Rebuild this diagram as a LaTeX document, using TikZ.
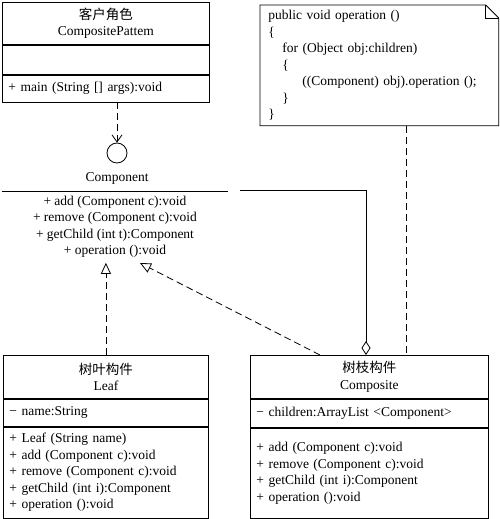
\documentclass[tikz,border=0pt]{standalone}
\usepackage{fontspec}
\setmainfont{Liberation Serif}
\newfontfamily\cjk{Noto Sans CJK SC}
\usetikzlibrary{arrows.meta}

\begin{document}
\begin{tikzpicture}[x=1pt,y=-1pt,line width=0.8pt,
    font=\fontsize{13.5}{16.5}\selectfont,
    usesarrow/.style={dash pattern=on 7pt off 4pt,-{Straight Barb[length=7pt,width=10pt]}},
    implarrow/.style={dash pattern=on 7pt off 4pt,-{Triangle[open,length=11pt,width=10pt]}},
    aggline/.style={{Diamond[open,length=14pt,width=9pt]}-},
    noteline/.style={dash pattern=on 7pt off 4pt}]
            \useasboundingbox (0,0) rectangle (500,519);

            % client
            \begin{scope}[every node/.style={draw,anchor=north west,inner xsep=6pt,inner ysep=0pt}]
                \node[align=center,text width=195pt,minimum height=42pt] (1) at (2,2) {{\cjk 客户角色}\\CompositePattem};
                \node[text width=195pt,minimum height=29pt] (2) at (1.south west) {};
                \node[align=left,text width=195pt,minimum height=27pt] (3) at (2.south west) {+ main (String [] args):void};
            \end{scope}

            % component
            \node[circle,draw,minimum size=20pt,inner sep=0pt] (6) at (117,153) {};
            \node (7) at (117,178) {Component};
            \node[anchor=north,align=center,minimum width=226pt,minimum height=71pt] (8) at (115,191)
                {+ add (Component c):void\\+ remove (Component c):void\\+ getChild (int t):Component\\+ operation ():void};
            \draw (8.north west) -- (8.north east);

            % note
            \node[align=left,anchor=north west,text width=222pt,minimum height=120pt,inner xsep=8pt] (9) at (260,5)
                {public void operation ()\\\{\\\hspace*{14pt}for (Object obj:children)\\\hspace*{14pt}\{\\\hspace*{34pt}((Component) obj).operation ();\\\hspace*{14pt}\}\\\}};
            \draw (9.north west) -- ([xshift=-13pt]9.north east) -- ([yshift=-13pt]9.north east) -- (9.south east) -- (9.south west) -- cycle;
            \draw ([xshift=-13pt]9.north east) |- ([yshift=-13pt]9.north east);

            % leaf and composite
            \begin{scope}[every node/.style={draw,anchor=north west,inner xsep=6pt,inner ysep=0pt}]
                \node[align=center,text width=193pt,minimum height=43pt] (10) at (3,355) {{\cjk 树叶构件}\\Leaf};
                \node[align=left,text width=193pt,minimum height=27pt] (11) at (10.south west) {− name:String};
                \node[align=left,text width=193pt,minimum height=91pt] (12) at (11.south west)
                    {+ Leaf (String name)\\+ add (Component c):void\\+ remove (Component c):void\\+ getChild (int i):Component\\+ operation ():void};

                \node[align=center,text width=226pt,minimum height=43pt] (13) at (250,355) {{\cjk 树枝构件}\\Composite};
                \node[align=left,text width=226pt,minimum height=28pt] (14) at (13.south west) {− children:ArrayList <Component>};
                \node[align=left,text width=226pt,minimum height=90pt] (15) at (14.south west)
                    {+ add (Component c):void\\+ remove (Component c):void\\+ getChild (int i):Component\\+ operation ():void};
            \end{scope}

            \coordinate (nx) at (406,0);
            \coordinate (rx) at (320,0);
            \coordinate (ax) at (366,0);
            \coordinate (ry) at (140,263);
            \coordinate (agg) at (240,190);

            \path [usesarrow] (3.south -| 6) edge (6.north);
            \path [implarrow] (10.north) edge (10.north |- 8.south);
            \path [implarrow] (13.north -| rx) edge (ry);
            \draw [aggline] (13.north -| ax) |- (agg);
            \path [noteline] (9.south -| nx) edge (13.north -| nx);
        \end{tikzpicture}
\end{document}
